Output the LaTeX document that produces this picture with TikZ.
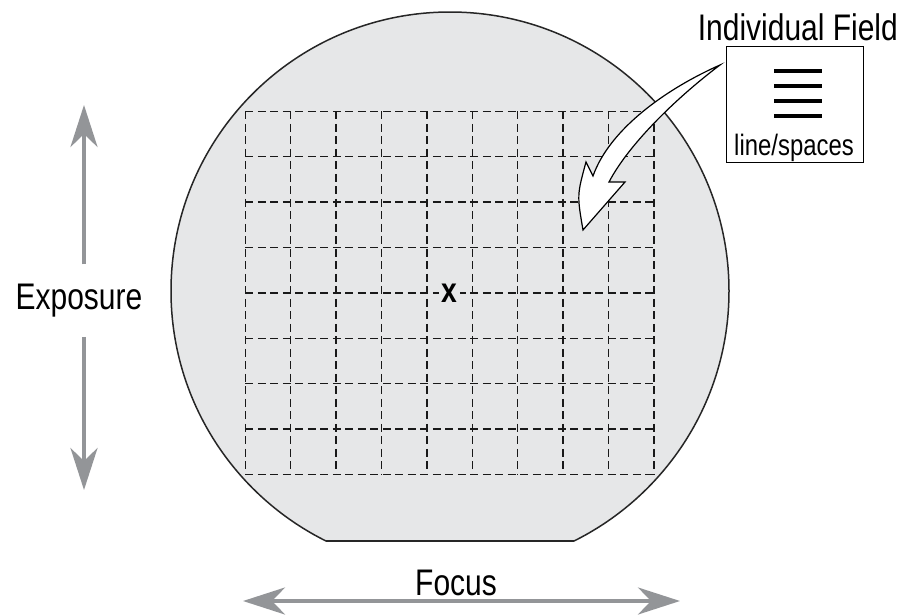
\documentclass[tikz,border=0pt]{standalone}
\usepackage{fontspec}
\newfontfamily\labelfont{Liberation Sans}[FakeStretch=0.81]
\usetikzlibrary{arrows.meta,positioning}
\definecolor{waferfill}{HTML}{E6E7E8}
\definecolor{axisgray}{HTML}{939598}

\begin{document}
\begin{tikzpicture}[
  x=1pt, y=-1pt,
  biglabel/.style={font=\labelfont\fontsize{37}{40}\selectfont, inner sep=0pt},
  smalllabel/.style={font=\labelfont\fontsize{29.5}{32}\selectfont, inner sep=0pt},
  axis/.style={-{Stealth[length=42pt,width=27pt,inset=13pt]}, line width=4pt, axisgray},
  gridline/.style={dash pattern=on 8pt off 4.5pt, line width=1.5pt, black!90},
  rim/.style={line width=1.5pt, draw=black!85}
]
\useasboundingbox (0,0) rectangle (903,614);

% ---- wafer with flat ----
\begin{scope}
  \clip (0,0) rectangle (903,541);
  \filldraw[rim, fill=waferfill] (450,291) circle[radius=279];
\end{scope}
\coordinate (flatL) at (326.1,541);
\coordinate (flatR) at (573.9,541);
\draw[rim] (flatL) -- (flatR);

% ---- field grid ----
\foreach \i in {0,...,9}
  \draw[gridline] ({245.3+\i*45.4},111.3) -- ({245.3+\i*45.4},474.5);
\foreach \j in {0,...,8}
  \draw[gridline] (245.3,{111.3+\j*45.4}) -- (653.9,{111.3+\j*45.4});

\node[fill=waferfill, inner sep=3pt,
      font=\labelfont\bfseries\fontsize{35}{38}\selectfont] (centre) at (449.6,292.9) {x};

% ---- individual field ----
\node[draw, line width=1.3pt, minimum width=137pt, minimum height=115.6pt,
      inner sep=0pt] (field) at (795.3,104.5) {};
\foreach \y in {71,86,100.7,115.7}
  \draw[line width=3.6pt] (774,\y) -- (822,\y);
\node[smalllabel, anchor=base] (ls) at (794,155) {line/spaces};
\node[biglabel, anchor=base east] (fieldlab) at (898,40) {Individual Field};

% curved pointer
\coordinate (tail) at (720,65);
\filldraw[fill=white, draw=black, line width=1.2pt, line join=miter]
  (tail) .. controls (668,88) and (610,128) .. (593,176)
  -- (586,162) .. controls (577,195) .. (583,230)
  -- (625,182) -- (609,182)
  .. controls (630,142) and (680,95) .. (tail) -- cycle;

% ---- exposure axis ----
\node[biglabel, anchor=base] (expo) at (79,309) {Exposure};
\coordinate (exptop) at (84,105);
\coordinate (expbot) at (84,490);
\draw[axis, shorten <=19pt] (expo.north -| exptop) -- (exptop);
\draw[axis, shorten <=20pt] (expo.south -| expbot) -- (expbot);

% ---- focus axis ----
\node[biglabel, anchor=base] (focus) at (456,595) {Focus};
\coordinate (focL) at (243,601);
\coordinate (focR) at (680,601);
\draw[axis, {Stealth[length=42pt,width=27pt,inset=13pt]}-{Stealth[length=42pt,width=27pt,inset=13pt]}] (focL) -- (focR);
\end{tikzpicture}
\end{document}
